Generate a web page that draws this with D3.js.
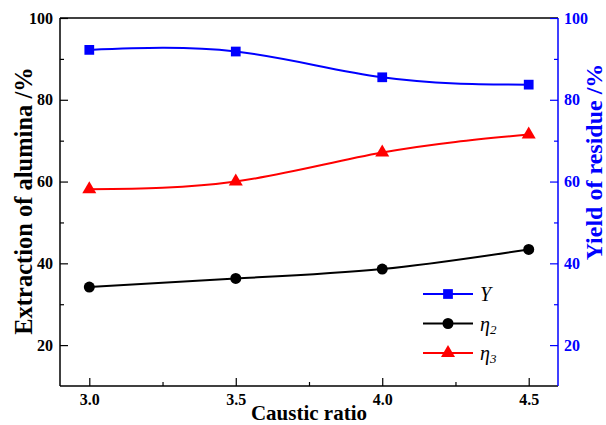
<!DOCTYPE html>
<html>
<head>
<meta charset="utf-8">
<script src="https://cdn.jsdelivr.net/npm/d3@7"></script>
<style>
  body { margin: 0; background: #fff; }
  text { font-family: "Liberation Serif", "Times New Roman", serif; }
</style>
</head>
<body>
<div id="chart"></div>
<script>
const causticRatio = [3.0, 3.5, 4.0, 4.5];
const yieldY = [92.2, 91.8, 85.5, 83.7];
const eta2 = [34.2, 36.3, 38.6, 43.4];
const eta3 = [58.1, 60.0, 67.1, 71.5];
const xTicks = [3.0, 3.5, 4.0, 4.5];
const yTicks = [20, 40, 60, 80, 100];

const width = 606, height = 425;
const margin = {top: 18, right: 48, bottom: 39, left: 60};
const w = width - margin.left - margin.right;
const h = height - margin.top - margin.bottom;

const svg = d3.select("#chart").append("svg")
    .attr("width", width)
    .attr("height", height);

const g = svg.append("g")
    .attr("transform", `translate(${margin.left},${margin.top})`);

const x = d3.scaleLinear().domain([2.9, 4.6]).range([0, w]);
const y = d3.scaleLinear().domain([10, 100]).range([h, 0]);
const y2 = d3.scaleLinear().domain([10, 100]).range([h, 0]);

// frame top line
g.append("line").attr("x1", 0).attr("x2", w).attr("y1", 0).attr("y2", 0)
    .attr("stroke", "#000").attr("stroke-width", 1.5);

// bottom axis, ticks inward
const xAxis = g.append("g").attr("transform", `translate(0,${h})`)
    .call(d3.axisBottom(x).tickValues(xTicks).tickSize(-8).tickPadding(8).tickFormat(d3.format(".1f")));
g.append("g").attr("transform", `translate(0,${h})`)
    .call(d3.axisBottom(x).tickValues([3.25, 3.75, 4.25]).tickSize(-4).tickFormat(""))
    .select(".domain").remove();

// left axis
const yAxis = g.append("g")
    .call(d3.axisLeft(y).tickValues(yTicks).tickSize(-8).tickPadding(7));
g.append("g")
    .call(d3.axisLeft(y).tickValues([30, 50, 70, 90]).tickSize(-4).tickFormat(""))
    .select(".domain").remove();

// right axis
const y2Axis = g.append("g").attr("transform", `translate(${w},0)`)
    .call(d3.axisRight(y2).tickValues(yTicks).tickSize(-8).tickPadding(6));
const y2Minor = g.append("g").attr("transform", `translate(${w},0)`)
    .call(d3.axisRight(y2).tickValues([30, 50, 70, 90]).tickSize(-4).tickFormat(""));
y2Minor.select(".domain").remove();

g.selectAll(".domain").attr("stroke-width", 1.5);
xAxis.select(".domain").attr("d", `M0,0H${w}`);
yAxis.select(".domain").attr("d", `M0,${h}V0`);
y2Axis.select(".domain").attr("d", `M0,${h}V0`);

g.selectAll(".tick line").attr("stroke-width", 1.2);
g.selectAll(".tick text")
    .style("font-family", "Liberation Serif")
    .style("font-size", "16px")
    .style("font-weight", "bold")
    .attr("fill", "#000");

y2Axis.selectAll("path, line").attr("stroke", "#0000ff");
y2Minor.selectAll("line").attr("stroke", "#0000ff");
y2Axis.selectAll("text").attr("fill", "#0000ff");

// axis titles
svg.append("text")
    .attr("x", margin.left + x(3.75))
    .attr("y", 420)
    .attr("text-anchor", "middle")
    .style("font-size", "21px")
    .style("font-weight", "bold")
    .text("Caustic ratio");

svg.append("text")
    .attr("transform", "translate(23,201) rotate(-90)")
    .attr("text-anchor", "middle")
    .attr("dy", "0.35em")
    .style("font-size", "24.5px")
    .style("font-weight", "bold")
    .text("Extraction of alumina /%");

svg.append("text")
    .attr("transform", "translate(594,162) rotate(-90)")
    .attr("text-anchor", "middle")
    .attr("dy", "0.35em")
    .style("font-size", "24px")
    .style("font-weight", "bold")
    .attr("fill", "#0000ff")
    .text("Yield of residue /%");

// series
const series = [
  {name: "Y", vals: yieldY, color: "#0000ff", shape: d3.symbolSquare, size: 95, scale: y2},
  {name: "η2", vals: eta2, color: "#000000", shape: d3.symbolCircle, size: 95, scale: y},
  {name: "η3", vals: eta3, color: "#ff0000", shape: d3.symbolTriangle, size: 85, scale: y}
];

series.forEach(s => {
  const pts = causticRatio.map((c, i) => [c, s.vals[i]]);
  const line = d3.line()
      .x(d => x(d[0]))
      .y(d => s.scale(d[1]))
      .curve(d3.curveNatural);
  g.append("path")
      .datum(pts)
      .attr("fill", "none")
      .attr("stroke", s.color)
      .attr("stroke-width", 2)
      .attr("d", line);
  g.selectAll(null)
      .data(pts)
      .enter().append("path")
      .attr("transform", d => `translate(${x(d[0])},${s.scale(d[1])})`)
      .attr("d", d3.symbol().type(s.shape).size(s.size))
      .attr("fill", s.color);
});

// legend
const legend = svg.append("g").attr("transform", "translate(423,294)");
series.forEach((s, i) => {
  const row = legend.append("g").attr("transform", `translate(0,${i * 29.5})`);
  row.append("line").attr("x1", 0).attr("x2", 50).attr("y1", 0).attr("y2", 0)
      .attr("stroke", s.color).attr("stroke-width", 2);
  row.append("path").attr("transform", "translate(25,0)")
      .attr("d", d3.symbol().type(s.shape).size(s.size)).attr("fill", s.color);
  const t = row.append("text").attr("x", 57).attr("y", 7)
      .style("font-size", "20px").style("font-style", "italic");
  if (s.name === "Y") {
    t.text("Y");
  } else {
    t.append("tspan").text("η");
    t.append("tspan").attr("dy", 3).style("font-size", "13px").text(s.name.slice(1));
  }
});
</script>
</body>
</html>
